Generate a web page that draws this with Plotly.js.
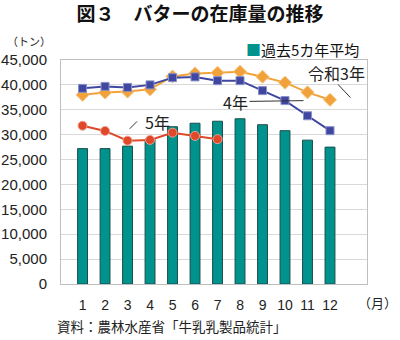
<!DOCTYPE html>
<html><head><meta charset="utf-8">
<script src="https://cdn.plot.ly/plotly-3.0.1.min.js"></script>
<style>body{margin:0;background:#fff}#c{width:400px;height:340px}</style>
</head><body><div id="c"></div>
<script>
const months = ['1','2','3','4','5','6','7','8','9','10','11','12'];
const avg5 = [27200, 27200, 27700, 29100, 31600, 32300, 32700, 33200, 32000, 30800, 28900, 27500];
const r3 = [38000, 38450, 38650, 39100, 41700, 42300, 42450, 42650, 41650, 40450, 38500, 37000];
const r4 = [39300, 39700, 39500, 40000, 41450, 41600, 40850, 40850, 38850, 36850, 33800, 30800];
const r5 = [31800, 30750, 28800, 28950, 30400, 29750, 29100];
const seriesNames = ['過去5カ年平均', '令和3年', '4年', '5年'];

const F = 'Liberation Sans, Arial, Noto Sans CJK JP, sans-serif';
const J = 'Noto Sans CJK JP, sans-serif';
const px = v => (v - 61) / 306;
const py = v => (284 - v) / 224;

const traces = [
  {type:'bar', x:months, y:avg5, name:seriesNames[0],
   marker:{color:'#00928C', line:{color:'#1b4f4c', width:1}}, showlegend:false},
  {type:'scatter', mode:'lines+markers', x:months, y:r3, name:seriesNames[1],
   line:{color:'#F2A23A', width:2}, marker:{symbol:'diamond', size:10, color:'#F2A23A', line:{color:'#f6c27a', width:1}}, showlegend:false},
  {type:'scatter', mode:'lines+markers', x:months, y:r4, name:seriesNames[2],
   line:{color:'#3F47A0', width:2}, marker:{symbol:'square', size:8, color:'#3F47A0', line:{color:'#8a90c8', width:1}}, showlegend:false},
  {type:'scatter', mode:'lines+markers', x:months.slice(0, r5.length), y:r5, name:seriesNames[3],
   line:{color:'#E0482A', width:2}, marker:{symbol:'circle', size:9, color:'#E0482A', line:{color:'#f0a090', width:1}}, showlegend:false}
];

const layout = {
  width:400, height:340,
  margin:{l:61, r:33, t:60, b:56},
  paper_bgcolor:'#fff', plot_bgcolor:'#fff',
  font:{family:F, color:'#222', size:14},
  title:{text:'図３　バターの在庫量の推移', font:{family:J, size:19, color:'#111', weight:700}, x:0.5, xanchor:'center', y:1-14/340, yanchor:'middle'},
  bargap:0.56,
  showlegend:false,
  xaxis:{type:'category', showgrid:false, showline:true, linecolor:'#bfbfbf', mirror:true, ticks:'', tickfont:{size:14, family:F}, ticklabelstandoff:8},
  yaxis:{range:[0,45000], dtick:5000, tickformat:',', showgrid:true, gridcolor:'#d9d9d9', showline:true, linecolor:'#bfbfbf', mirror:true, ticks:'', tickfont:{size:15, family:F}, zeroline:false, ticklabelstandoff:10},
  annotations:[
    {xref:'paper', yref:'paper', x:px(29), y:py(41), text:'（トン）', showarrow:false, font:{family:J, size:11}, xanchor:'center', yanchor:'middle'},
    {xref:'paper', yref:'paper', x:px(399), y:py(302), text:'（月）', showarrow:false, font:{family:J, size:13}, xanchor:'right', yanchor:'middle'},
    {xref:'paper', yref:'paper', x:px(55), y:py(326), text:'資料：農林水産省「牛乳乳製品統計」', showarrow:false, font:{family:J, size:13.5}, xanchor:'left', yanchor:'middle'},
    {xref:'paper', yref:'paper', x:px(244), y:py(50), text:'<span style="color:#00928C">■</span>' + seriesNames[0], showarrow:false, font:{family:J, size:15, color:'#111'}, xanchor:'left', yanchor:'middle'},
    {xref:'x', yref:'y', x:'2', y:r5[1], text:' ', showarrow:true, arrowhead:0, arrowcolor:'#333', arrowwidth:1, ax:11, ay:-11, standoff:3, font:{size:1}},
    {xref:'x', yref:'y', x:'2', y:r5[1], text:seriesNames[3], showarrow:false, xshift:30, yshift:9, font:{family:J, size:16}},
    {xref:'x', yref:'y', x:'10', y:r4[9], text:seriesNames[2], showarrow:true, arrowhead:0, arrowcolor:'#333', arrowwidth:1, ax:-72, ay:1, standoff:4, font:{family:J, size:16}},
    {xref:'x', yref:'y', x:'12', y:r3[11], text:' ', showarrow:true, arrowhead:0, arrowcolor:'#333', arrowwidth:1, ax:-16, ay:-17, standoff:3, font:{size:1}},
    {xref:'x', yref:'y', x:'12', y:r3[11], text:seriesNames[1], showarrow:false, xshift:-16, yshift:27, font:{family:J, size:16}}
  ]
};
Plotly.newPlot('c', traces, layout, {displayModeBar:false, staticPlot:true});
</script></body></html>
